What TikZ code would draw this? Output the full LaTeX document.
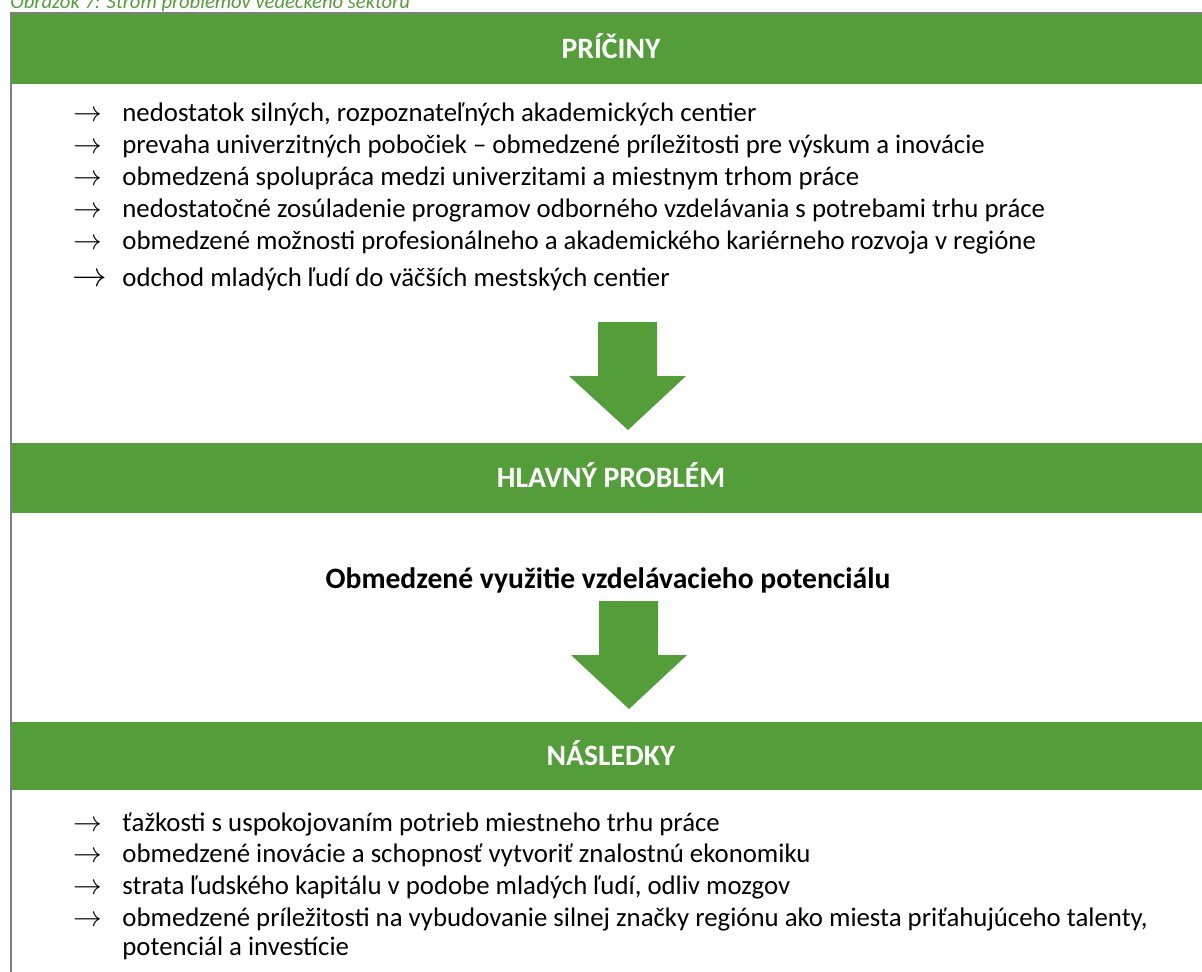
\documentclass[tikz,border=0pt]{standalone}
\usepackage{fontspec}
\setmainfont{Carlito}

\definecolor{zelena}{HTML}{549E39}
\definecolor{seda}{HTML}{7F7F7F}

\tikzset{
  pas/.style={fill=zelena},
  nadpis/.style={anchor=base, inner sep=0pt, text=white, font=\fontsize{14.8}{17}\selectfont\bfseries},
  polozka/.style={anchor=base west, inner sep=0pt, font=\fontsize{13.4}{16}\selectfont},
  sipka/.style={anchor=base west, inner sep=0pt, font=\fontsize{15}{17}\selectfont},
  blok/.style={fill=zelena}
}

\begin{document}
\begin{tikzpicture}[x=0.5pt,y=-0.5pt]
	\useasboundingbox (0,0) rectangle (1202,971);

	% Titulok obrazka
	\node[anchor=base west, inner sep=0pt, text=zelena, font=\fontsize{10.3}{12}\selectfont\itshape] (titulok) at (10,8) {Obrázok 7: Strom problémov vedeckého sektoru};

	% Ram
	\draw[seda, line width=1pt] (1230,13) -- (11,13) -- (11,975);

	% Zelene pasy
	\fill[pas] (11.5,13.5) rectangle (1230,84);
	\fill[pas] (11.5,443) rectangle (1230,513);
	\fill[pas] (11.5,722) rectangle (1230,790);

	% Nadpisy
	\node[nadpis] (priciny) at (611,58) {PRÍČINY};
	\node[nadpis] (problem) at (611,487) {HLAVNÝ PROBLÉM};
	\node[nadpis] (nasledky) at (611,765) {NÁSLEDKY};

	% Priciny
	\node[sipka] (s1) at (73,121) {$\rightarrow$};
	\node[sipka] (s2) at (73,153) {$\rightarrow$};
	\node[sipka] (s3) at (73,185) {$\rightarrow$};
	\node[sipka] (s4) at (73,217) {$\rightarrow$};
	\node[sipka] (s5) at (73,249) {$\rightarrow$};
	\node[sipka, font=\fontsize{17}{19}\selectfont] (s6) at (72,286) {$\rightarrow$};
	\node[polozka] (pricina1) at (122,121) {nedostatok silných, rozpoznateľných akademických centier};
	\node[polozka] (pricina2) at (122,153) {prevaha univerzitných pobočiek – obmedzené príležitosti pre výskum a inovácie};
	\node[polozka] (pricina3) at (122,185) {obmedzená spolupráca medzi univerzitami a miestnym trhom práce};
	\node[polozka] (pricina4) at (122,217) {nedostatočné zosúladenie programov odborného vzdelávania s potrebami trhu práce};
	\node[polozka] (pricina5) at (122,249) {obmedzené možnosti profesionálneho a akademického kariérneho rozvoja v regióne};
	\node[polozka] (pricina6) at (122,286) {odchod mladých ľudí do väčších mestských centier};

	% Sipka k hlavnemu problemu
	\fill[blok] (598,322) -- (657,322) -- (657,376) -- (686,376) -- (628,430) -- (569,376) -- (598,376) -- cycle;

	% Hlavny problem
	\node[anchor=base, inner sep=0pt, font=\fontsize{14.8}{17}\selectfont\bfseries] (hlavny) at (608,588) {Obmedzené využitie vzdelávacieho potenciálu};

	% Sipka k nasledkom
	\fill[blok] (599,601) -- (658,601) -- (658,655) -- (687,655) -- (629,709) -- (571,655) -- (599,655) -- cycle;

	% Nasledky
	\node[sipka] (t1) at (73,831) {$\rightarrow$};
	\node[sipka] (t2) at (73,862) {$\rightarrow$};
	\node[sipka] (t3) at (73,894) {$\rightarrow$};
	\node[sipka] (t4) at (73,926) {$\rightarrow$};
	\node[polozka] (nasledok1) at (122,831) {ťažkosti s uspokojovaním potrieb miestneho trhu práce};
	\node[polozka] (nasledok2) at (122,862) {obmedzené inovácie a schopnosť vytvoriť znalostnú ekonomiku};
	\node[polozka] (nasledok3) at (122,894) {strata ľudského kapitálu v podobe mladých ľudí, odliv mozgov};
	\node[polozka] (nasledok4) at (122,926) {obmedzené príležitosti na vybudovanie silnej značky regiónu ako miesta priťahujúceho talenty,};
	\node[polozka] (nasledok4b) at (122,955) {potenciál a investície};
\end{tikzpicture}
\end{document}
